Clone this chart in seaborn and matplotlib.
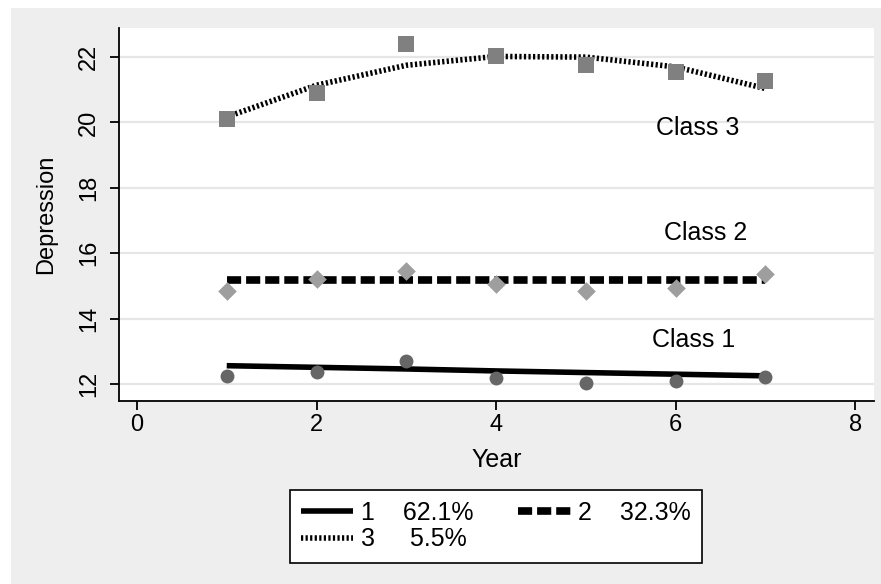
import numpy as np
import pandas as pd
import matplotlib
matplotlib.use("Agg")
import matplotlib.pyplot as plt
import seaborn as sns
from matplotlib.patches import Rectangle

# values
years = [1, 2, 3, 4, 5, 6, 7]
class1_obs = [12.25, 12.36, 12.70, 12.17, 12.04, 12.09, 12.22]
class1_fit = [12.56, 12.51, 12.46, 12.40, 12.35, 12.30, 12.25]
class2_obs = [14.84, 15.22, 15.45, 15.07, 14.84, 14.95, 15.37]
class2_fit = [15.17, 15.17, 15.17, 15.17, 15.17, 15.17, 15.17]
class3_obs = [20.12, 20.90, 22.41, 22.02, 21.77, 21.54, 21.27]
class3_fit = [20.17, 21.14, 21.75, 22.02, 22.00, 21.70, 21.04]
legend_labels = ["1    62.1%", "2    32.3%", "3     5.5%"]
class_names = ["Class 1", "Class 2", "Class 3"]
class_text_pos = [(6.20, 13.14), (6.34, 16.39), (6.25, 19.61)]
xticks = [0, 2, 4, 6, 8]
yticks = [12, 14, 16, 18, 20, 22]

sns.set_theme(style="white")
plt.rcParams['font.family'] = ['Liberation Sans', 'DejaVu Sans']
plt.rcParams['text.color'] = 'black'

fig = plt.figure(figsize=(8.81, 5.84), dpi=100, facecolor='white')
bg = Rectangle((11 / 881, 0), 1, (584 - 8) / 584, transform=fig.transFigure,
               facecolor='#eeeeee', edgecolor='none', zorder=-5)
fig.patches.append(bg)
ax = fig.add_axes([119 / 881, (584 - 401) / 584, (874 - 119) / 881, (401 - 28) / 584])
ax.set_zorder(2)
ax.set_facecolor('white')

df = pd.DataFrame({'year': years,
                   'c1': class1_obs, 'c1f': class1_fit,
                   'c2': class2_obs, 'c2f': class2_fit,
                   'c3': class3_obs, 'c3f': class3_fit})

# fitted trajectories
sns.lineplot(data=df, x='year', y='c1f', color='black', lw=4, ax=ax,
             label=legend_labels[0], solid_capstyle='butt')
sns.lineplot(data=df, x='year', y='c2f', color='black', lw=5.5, ax=ax,
             linestyle=(0, (1.85, 0.65)), label=legend_labels[1])
sns.lineplot(data=df, x='year', y='c3f', color='black', lw=4, ax=ax,
             linestyle=(0, (0.4, 0.42)), label=legend_labels[2])

# observed means
sns.scatterplot(data=df, x='year', y='c1', marker='o', s=100, color='#666666',
                linewidth=0, ax=ax, zorder=3)
sns.scatterplot(data=df, x='year', y='c2', marker='D', s=90, color='#9e9e9e',
                linewidth=0, ax=ax, zorder=3)
sns.scatterplot(data=df, x='year', y='c3', marker='s', s=121, color='#808080',
                linewidth=0, ax=ax, zorder=3)

for name, (tx, ty) in zip(class_names, class_text_pos):
    ax.text(tx, ty, name, ha='center', va='baseline', fontsize=18, color='black')

ax.set_xlim(-0.2, 8.21)
ax.set_ylim(11.48, 22.89)
ax.set_xticks(xticks)
ax.set_yticks(yticks)
ax.set_yticklabels([str(t) for t in yticks], rotation=90, va='center')
ax.tick_params(axis='both', direction='out', length=6.5, width=1.3, color='black',
               labelsize=17, labelcolor='black', bottom=True, left=True)
ax.tick_params(axis='y', pad=7)
ax.tick_params(axis='x', pad=3)

ax.grid(axis='y', color='#e6e6e6', lw=1.6)
ax.set_axisbelow(True)
for side in ['top', 'right']:
    ax.spines[side].set_visible(False)
for side in ['left', 'bottom']:
    ax.spines[side].set_color('black')
    ax.spines[side].set_linewidth(1.3)

ax.set_xlabel('Year', fontsize=18, color='black')
ax.set_ylabel('Depression', fontsize=17, color='black')
ax.xaxis.set_label_coords(0.5, -0.125)
ax.yaxis.set_label_coords(-0.082, 0.5)

handles, labels = ax.get_legend_handles_labels()
ax.get_legend().remove()
order = [0, 2, 1]
leg = fig.legend([handles[i] for i in order], [labels[i] for i in order],
                 loc='center', bbox_to_anchor=(496 / 881, 1 - 526 / 584), ncol=2,
                 fontsize=18, handlelength=2.1, handletextpad=0.3, columnspacing=1.8,
                 labelspacing=0.1, borderpad=0.45, fancybox=False, frameon=True,
                 edgecolor='black', facecolor='white', framealpha=1, labelcolor='black')
leg.get_frame().set_linewidth(1.2)

fig.savefig('out.png', dpi=100, facecolor=fig.get_facecolor())
